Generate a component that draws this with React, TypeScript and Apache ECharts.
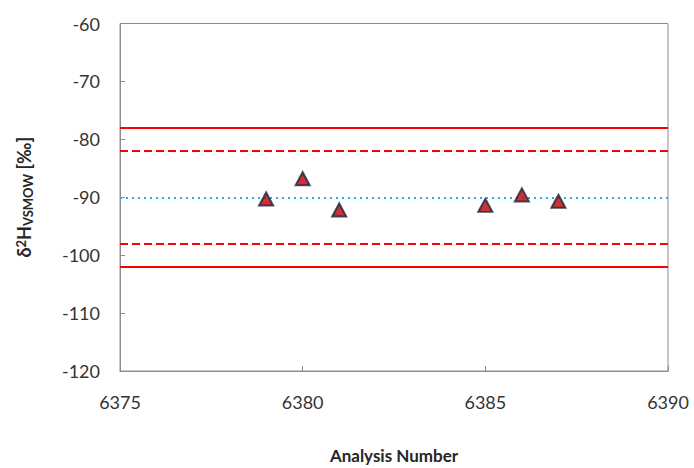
import React, { useEffect, useRef } from "react";
import * as echarts from "echarts";

const analysisNumbers = [6379, 6380, 6381, 6385, 6386, 6387];
const d2HValues = [-90.3, -86.8, -92.2, -91.4, -89.6, -90.7];
const meanValue = -90;
const warnLimits = [-82, -98];
const controlLimits = [-78, -102];
const xTicks = [6375, 6380, 6385, 6390];

export default function App() {
  const ref = useRef<HTMLDivElement>(null);
  useEffect(() => {
    if (!ref.current) return;
    const chart = echarts.init(ref.current, null, { renderer: "svg" });
    const font = "Lato, 'Open Sans', sans-serif";
    chart.setOption({
      animation: false,
      backgroundColor: "#ffffff",
      grid: {
        left: 120, right: 26, top: 23.5, bottom: 97,
        outerBoundsMode: "none", containLabel: false,
        show: true, borderColor: "#8c8c8c", borderWidth: 1,
      },
      xAxis: {
        type: "value",
        min: 6375,
        max: 6390,
        interval: 5,
        name: "Analysis Number",
        nameLocation: "middle",
        nameGap: 76,
        nameTextStyle: { fontFamily: font, fontSize: 17, fontWeight: "bold", color: "#262626" },
        axisLine: { show: true, lineStyle: { color: "#8c8c8c" } },
        axisTick: { show: true, inside: true, length: 5, lineStyle: { color: "#8c8c8c" } },
        axisLabel: { fontFamily: font, fontSize: 18, color: "#333333", margin: 22, formatter: (v: number) => (xTicks.includes(v) ? String(v) : "") },
        splitLine: { show: false },
      },
      yAxis: {
        type: "value",
        min: -120,
        max: -60,
        interval: 10,
        name: "{a|δ}{sup|2}{a|H}{sub|VSMOW}{a| [‰]}",
        nameLocation: "middle",
        nameRotate: 90,
        nameGap: 86,
        nameTextStyle: {
          rich: {
            a: { fontFamily: font, fontSize: 18, fontWeight: "bold", color: "#262626" },
            sup: { fontFamily: font, fontSize: 13, fontWeight: "bold", color: "#262626", padding: [0, 0, 6, 0] },
            sub: { fontFamily: font, fontSize: 13, fontWeight: "bold", color: "#262626", padding: [7, 0, 0, 0] },
          },
        },
        axisLine: { show: true, lineStyle: { color: "#8c8c8c" } },
        axisTick: { show: true, inside: true, length: 5, lineStyle: { color: "#8c8c8c" } },
        axisLabel: { fontFamily: font, fontSize: 18, color: "#333333", margin: 20 },
        splitLine: { show: false },
      },
      series: [
        {
          type: "scatter",
          data: analysisNumbers.map((x, i) => [x, d2HValues[i]]),
          symbol: "triangle",
          symbolSize: [14, 13],
          itemStyle: { color: "#c00000", borderColor: "#1c2440", borderWidth: 2 },
          z: 5,
          markLine: {
            silent: true,
            symbol: "none",
            label: { show: false },
            data: [
              { yAxis: meanValue, lineStyle: { color: "#1fb0ec", type: [2, 4], width: 2 } },
              ...warnLimits.map((v) => ({ yAxis: v, lineStyle: { color: "#ff0000", type: [8, 4], width: 2 } })),
              ...controlLimits.map((v) => ({ yAxis: v, lineStyle: { color: "#ff0000", type: "solid", width: 2 } })),
            ],
          },
        },
      ],
    });
    return () => chart.dispose();
  }, []);
  return <div ref={ref} style={{ width: 694, height: 468, position: "absolute", left: 0, top: 0 }} />;
}
